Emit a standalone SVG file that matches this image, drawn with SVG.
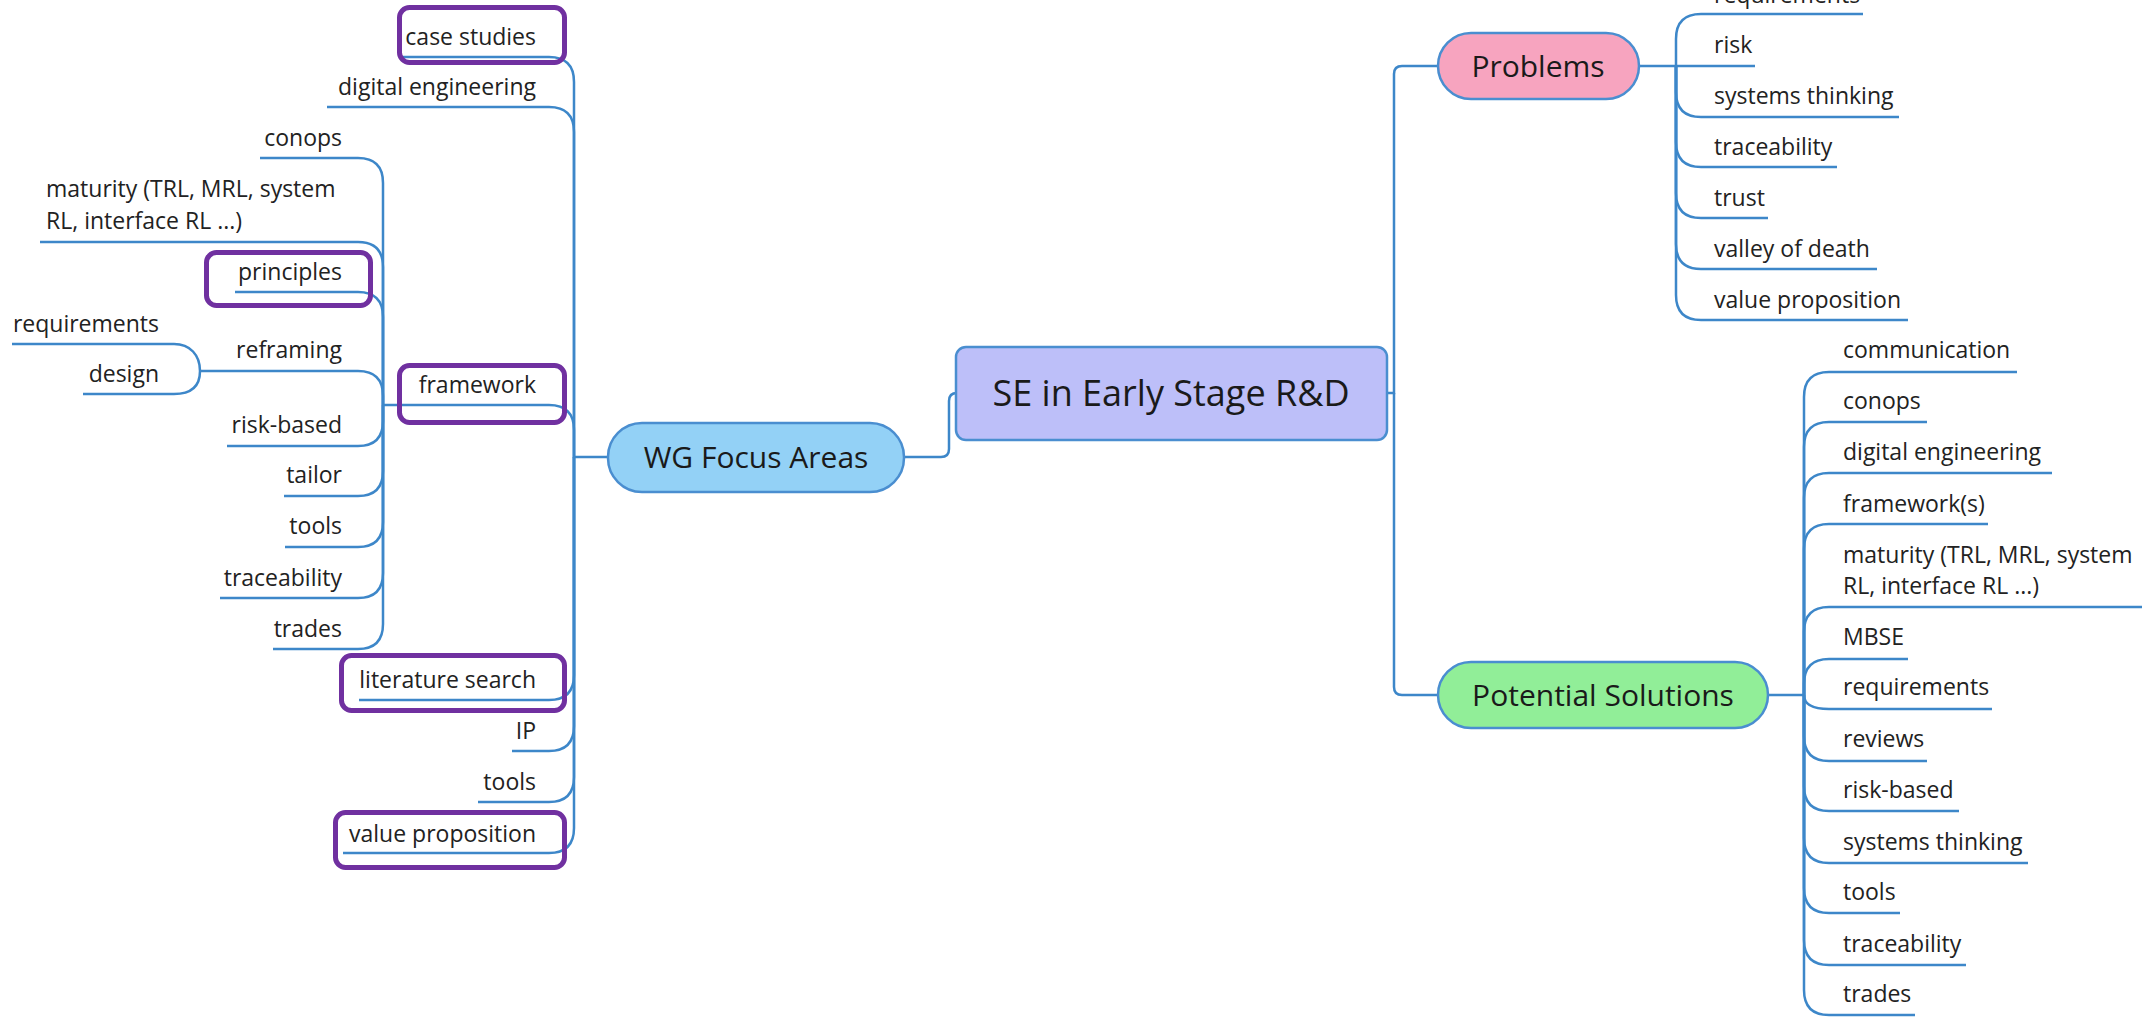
<svg xmlns="http://www.w3.org/2000/svg" width="2142" height="1017" viewBox="0 0 2142 1017">
<style>
.c{fill:none;stroke:#3d87c9;stroke-width:2.5;stroke-linecap:butt}
.t{font-family:"Open Sans","Liberation Sans",sans-serif;font-size:23px;fill:#222}
.e{text-anchor:end}
.p{font-family:"Open Sans","Liberation Sans",sans-serif;font-size:30px;fill:#1a1a1a;text-anchor:middle}
.hl{fill:none;stroke:#7030a0;stroke-width:5}
.pill{stroke:#4a8ed0;stroke-width:2.5}
</style>
<rect width="2142" height="1017" fill="#fff"/>
<g id="connectors">
<!-- center to main branches -->
<path class="c" d="M904,457 H941 Q949,457 949,449 V401 Q949,393 957,393"/>
<path class="c" d="M1387,393 H1394 V74 Q1394,66 1402,66 H1438"/>
<path class="c" d="M1394,393 V687 Q1394,695 1402,695 H1438"/>
<!-- WG Focus Areas trunk -->
<path class="c" d="M608,457 H574 V82 Q574,57 549,57 H401"/>
<path class="c" d="M574,457 V132 Q574,107 549,107 H327"/>
<path class="c" d="M574,457 V430 Q574,405 549,405 H383"/>
<path class="c" d="M574,457 V675 Q574,700 549,700 H359"/>
<path class="c" d="M574,457 V726 Q574,751 549,751 H512"/>
<path class="c" d="M574,457 V777 Q574,802 549,802 H478"/>
<path class="c" d="M574,457 V828 Q574,853 549,853 H343"/>
<!-- framework subtree -->
<path class="c" d="M383,405 V183 Q383,158 358,158 H260"/>
<path class="c" d="M383,405 V267 Q383,242 358,242 H40"/>
<path class="c" d="M383,405 V317 Q383,292 358,292 H235"/>
<path class="c" d="M383,405 V396 Q383,371 358,371 H200"/>
<path class="c" d="M383,405 V421 Q383,446 358,446 H227"/>
<path class="c" d="M383,405 V471 Q383,496 358,496 H284"/>
<path class="c" d="M383,405 V522 Q383,547 358,547 H285"/>
<path class="c" d="M383,405 V573 Q383,598 358,598 H220"/>
<path class="c" d="M383,405 V624 Q383,649 358,649 H273"/>
<!-- reframing subtree -->
<path class="c" d="M200,371 C200,355 190,344 174,344 H12"/>
<path class="c" d="M200,371 C200,387 190,394 174,394 H83"/>
<!-- Problems subtree -->
<path class="c" d="M1639,66 H1755"/>
<path class="c" d="M1676,66 V39 Q1676,14 1701,14 H1863"/>
<path class="c" d="M1676,66 V92 Q1676,117 1701,117 H1899"/>
<path class="c" d="M1676,66 V142 Q1676,167 1701,167 H1837"/>
<path class="c" d="M1676,66 V193 Q1676,218 1701,218 H1768"/>
<path class="c" d="M1676,66 V244 Q1676,269 1701,269 H1877"/>
<path class="c" d="M1676,66 V295 Q1676,320 1701,320 H1908"/>
<!-- Potential Solutions subtree -->
<path class="c" d="M1768,695 H1804"/>
<path class="c" d="M1804,695 V397 Q1804,372 1829,372 H2017"/>
<path class="c" d="M1804,695 V447 Q1804,422 1829,422 H1927"/>
<path class="c" d="M1804,695 V498 Q1804,473 1829,473 H2052"/>
<path class="c" d="M1804,695 V549 Q1804,524 1829,524 H1988"/>
<path class="c" d="M1804,695 V632 Q1804,607 1829,607 H2145"/>
<path class="c" d="M1804,695 V684 Q1804,659 1829,659 H1908"/>
<path class="c" d="M1804,695 C1804,704 1812,709 1829,709 H1992"/>
<path class="c" d="M1804,695 V736 Q1804,761 1829,761 H1927"/>
<path class="c" d="M1804,695 V786 Q1804,811 1829,811 H1959"/>
<path class="c" d="M1804,695 V838 Q1804,863 1829,863 H2028"/>
<path class="c" d="M1804,695 V888 Q1804,913 1829,913 H1900"/>
<path class="c" d="M1804,695 V940 Q1804,965 1829,965 H1966"/>
<path class="c" d="M1804,695 V990 Q1804,1015 1829,1015 H1915"/>
</g>
<g id="root">
<rect x="956" y="347" width="431" height="93" rx="10" fill="#bdbff9" class="pill"/>
<text class="p" x="1171" y="406" style="font-size:36px">SE in Early Stage R&amp;D</text>
</g>
<g id="wg-focus-areas">
<rect x="608" y="423" width="296" height="69" rx="34" fill="#93d1f6" class="pill"/>
<text class="p" x="756" y="468">WG Focus Areas</text>
</g>
<g id="problems">
<rect x="1438" y="33" width="201" height="66" rx="33" fill="#f7a4bf" class="pill"/>
<text class="p" x="1538" y="77">Problems</text>
</g>
<g id="potential-solutions">
<rect x="1438" y="662" width="330" height="66" rx="33" fill="#91ee98" class="pill"/>
<text class="p" x="1603" y="706">Potential Solutions</text>
</g>
<g id="wg-case-studies"><text class="t e" x="536" y="45">case studies</text><rect class="hl" x="399.5" y="7.5" width="165" height="55" rx="10"/></g>
<g id="wg-digital-engineering"><text class="t e" x="536" y="95">digital engineering</text></g>
<g id="wg-framework"><text class="t e" x="536" y="393">framework</text><rect class="hl" x="399.5" y="365.5" width="165" height="57" rx="10"/></g>
<g id="wg-literature-search"><text class="t e" x="536" y="688">literature search</text><rect class="hl" x="341.5" y="655.5" width="223" height="55" rx="10"/></g>
<g id="wg-ip"><text class="t e" x="536" y="739">IP</text></g>
<g id="wg-tools"><text class="t e" x="536" y="790">tools</text></g>
<g id="wg-value-proposition"><text class="t e" x="536" y="842">value proposition</text><rect class="hl" x="335.5" y="812.5" width="229" height="55" rx="10"/></g>
<g id="fw-conops"><text class="t e" x="342" y="146">conops</text></g>
<g id="fw-maturity"><text class="t" x="46" y="197">maturity (TRL, MRL, system</text><text class="t" x="46" y="229">RL, interface RL ...)</text></g>
<g id="fw-principles"><text class="t e" x="342" y="280">principles</text><rect class="hl" x="206.5" y="252.5" width="164" height="53" rx="10"/></g>
<g id="fw-reframing"><text class="t e" x="342" y="358">reframing</text></g>
<g id="rf-requirements"><text class="t e" x="159" y="332">requirements</text></g>
<g id="rf-design"><text class="t e" x="159" y="382">design</text></g>
<g id="fw-risk-based"><text class="t e" x="342" y="433">risk-based</text></g>
<g id="fw-tailor"><text class="t e" x="342" y="483">tailor</text></g>
<g id="fw-tools"><text class="t e" x="342" y="534">tools</text></g>
<g id="fw-traceability"><text class="t e" x="342" y="586">traceability</text></g>
<g id="fw-trades"><text class="t e" x="342" y="637">trades</text></g>
<g id="pr-requirements"><text class="t" x="1714" y="3">requirements</text></g>
<g id="pr-risk"><text class="t" x="1714" y="53">risk</text></g>
<g id="pr-systems-thinking"><text class="t" x="1714" y="104">systems thinking</text></g>
<g id="pr-traceability"><text class="t" x="1714" y="155">traceability</text></g>
<g id="pr-trust"><text class="t" x="1714" y="206">trust</text></g>
<g id="pr-valley-of-death"><text class="t" x="1714" y="257">valley of death</text></g>
<g id="pr-value-proposition"><text class="t" x="1714" y="308">value proposition</text></g>
<g id="ps-communication"><text class="t" x="1843" y="358">communication</text></g>
<g id="ps-conops"><text class="t" x="1843" y="409">conops</text></g>
<g id="ps-digital-engineering"><text class="t" x="1843" y="460">digital engineering</text></g>
<g id="ps-frameworks"><text class="t" x="1843" y="512">framework(s)</text></g>
<g id="ps-maturity"><text class="t" x="1843" y="563">maturity (TRL, MRL, system</text><text class="t" x="1843" y="594">RL, interface RL ...)</text></g>
<g id="ps-mbse"><text class="t" x="1843" y="645">MBSE</text></g>
<g id="ps-requirements"><text class="t" x="1843" y="695">requirements</text></g>
<g id="ps-reviews"><text class="t" x="1843" y="747">reviews</text></g>
<g id="ps-risk-based"><text class="t" x="1843" y="798">risk-based</text></g>
<g id="ps-systems-thinking"><text class="t" x="1843" y="850">systems thinking</text></g>
<g id="ps-tools"><text class="t" x="1843" y="900">tools</text></g>
<g id="ps-traceability"><text class="t" x="1843" y="952">traceability</text></g>
<g id="ps-trades"><text class="t" x="1843" y="1002">trades</text></g>
</svg>
